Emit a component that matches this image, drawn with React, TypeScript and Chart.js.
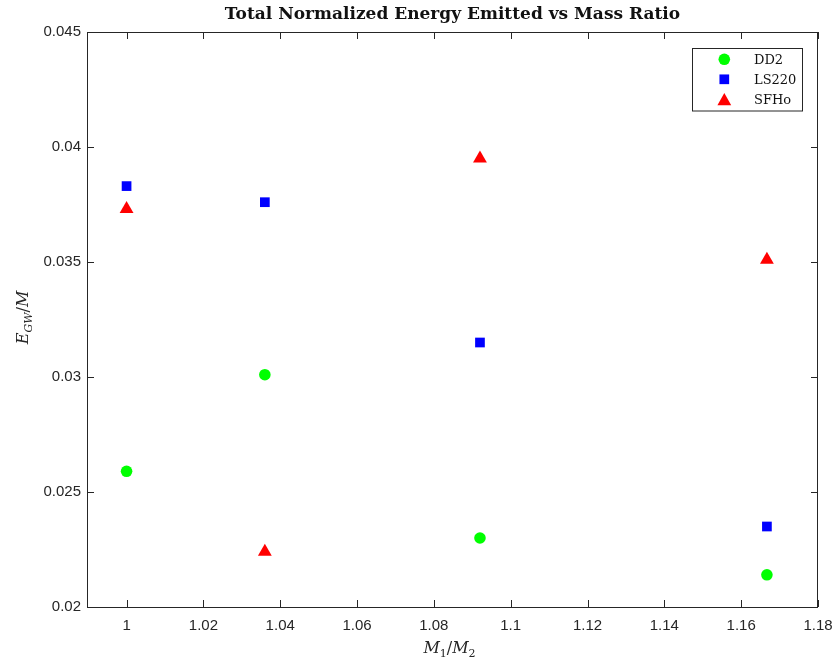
import React, { useEffect, useRef } from "react";
import { Chart, registerables } from "chart.js";

Chart.register(...registerables);

const massRatio = [1, 1.036, 1.092, 1.1667];
const dd2 = [0.0259, 0.0301, 0.0230, 0.0214];
const ls220 = [0.0383, 0.0376, 0.0315, 0.0235];
const sfho = [0.0373, 0.0224, 0.0395, 0.0351];

const xTicks = [1, 1.02, 1.04, 1.06, 1.08, 1.1, 1.12, 1.14, 1.16, 1.18];
const xTickLabels = ["1", "1.02", "1.04", "1.06", "1.08", "1.1", "1.12", "1.14", "1.16", "1.18"];
const yTicks = [0.02, 0.025, 0.03, 0.035, 0.04, 0.045];
const yTickLabels = ["0.02", "0.025", "0.03", "0.035", "0.04", "0.045"];

const seriesNames = ["DD2", "LS220", "SFHo"];
const titleText = "Total Normalized Energy Emitted vs Mass Ratio";

const AXIS = "#262626";

type Seg = { t: string; sub?: boolean; italic?: boolean };

function drawMath(ctx: CanvasRenderingContext2D, segs: Seg[], cx: number, baseline: number, size: number) {
  const fontFor = (s: Seg) =>
    `${s.italic ? "italic " : ""}${s.sub ? Math.round(size * 0.7) : size}px "DejaVu Serif", serif`;
  let total = 0;
  for (const s of segs) {
    ctx.font = fontFor(s);
    total += ctx.measureText(s.t).width;
  }
  let x = cx - total / 2;
  ctx.textAlign = "left";
  ctx.textBaseline = "alphabetic";
  for (const s of segs) {
    ctx.font = fontFor(s);
    ctx.fillText(s.t, x, baseline + (s.sub ? size * 0.25 : 0));
    x += ctx.measureText(s.t).width;
  }
}

const decorPlugin = {
  id: "decor",
  afterDraw(chart: any) {
    const ctx: CanvasRenderingContext2D = chart.ctx;
    const { left, right, top, bottom } = chart.chartArea;
    const xs = chart.scales.x;
    const ys = chart.scales.y;
    ctx.save();
    ctx.strokeStyle = AXIS;
    ctx.lineWidth = 1;
    ctx.strokeRect(left + 0.5, top + 0.5, right - left - 1, bottom - top);
    ctx.beginPath();
    const tl = 7;
    for (const v of xTicks) {
      const px = Math.round(xs.getPixelForValue(v)) + 0.5;
      ctx.moveTo(px, bottom);
      ctx.lineTo(px, bottom - tl);
      ctx.moveTo(px, top);
      ctx.lineTo(px, top + tl);
    }
    for (const v of yTicks) {
      const py = Math.round(ys.getPixelForValue(v)) + 0.5;
      ctx.moveTo(left, py);
      ctx.lineTo(left + tl, py);
      ctx.moveTo(right, py);
      ctx.lineTo(right - tl, py);
    }
    ctx.stroke();

    // title
    ctx.fillStyle = "#111";
    ctx.font = 'bold 17px "DejaVu Serif", serif';
    ctx.textAlign = "center";
    ctx.textBaseline = "middle";
    ctx.fillText(titleText, (left + right) / 2, 15);

    // axis labels
    ctx.fillStyle = AXIS;
    drawMath(
      ctx,
      [{ t: "M", italic: true }, { t: "1", sub: true }, { t: "/" }, { t: "M", italic: true }, { t: "2", sub: true }],
      (left + right) / 2 - 3,
      653,
      16
    );
    ctx.save();
    ctx.translate(28, (top + bottom) / 2 - 2);
    ctx.rotate(-Math.PI / 2);
    drawMath(
      ctx,
      [{ t: "E", italic: true }, { t: "GW", sub: true, italic: true }, { t: "/" }, { t: "M", italic: true }],
      0,
      0,
      16
    );
    ctx.restore();

    // legend
    const lx = 692.5, ly = 48.5, lw = 110, lh = 62.5;
    ctx.fillStyle = "#fff";
    ctx.fillRect(lx, ly, lw, lh);
    ctx.strokeStyle = AXIS;
    ctx.strokeRect(lx, ly, lw, lh);
    const mx = 724.3;
    const rows = [59.3, 79.3, 99.3];
    ctx.fillStyle = "#00ff00";
    ctx.beginPath();
    ctx.arc(mx, rows[0], 5.8, 0, Math.PI * 2);
    ctx.fill();
    ctx.fillStyle = "#0000ff";
    ctx.fillRect(mx - 4.85, rows[1] - 4.85, 9.7, 9.7);
    ctx.fillStyle = "#ff0000";
    ctx.beginPath();
    ctx.moveTo(mx, rows[2] - 6.2);
    ctx.lineTo(mx + 6.9, rows[2] + 6);
    ctx.lineTo(mx - 6.9, rows[2] + 6);
    ctx.closePath();
    ctx.fill();
    ctx.fillStyle = "#111";
    ctx.font = '13px "DejaVu Serif", serif';
    ctx.textAlign = "left";
    ctx.textBaseline = "middle";
    seriesNames.forEach((n, i) => ctx.fillText(n, 754, rows[i] + 1));
    ctx.restore();
  },
};

export default function App() {
  const ref = useRef<HTMLCanvasElement | null>(null);
  useEffect(() => {
    if (!ref.current) return;
    const mk = (vals: number[]) => massRatio.map((x, i) => ({ x, y: vals[i] }));
    const chart = new Chart(ref.current, {
      type: "scatter",
      data: {
        datasets: [
          { label: seriesNames[0], data: mk(dd2), backgroundColor: "#00ff00", pointStyle: "circle", pointRadius: 5.8, pointBorderWidth: 0 },
          { label: seriesNames[1], data: mk(ls220), backgroundColor: "#0000ff", pointStyle: "rect", pointRadius: 6.86, pointBorderWidth: 0 },
          { label: seriesNames[2], data: mk(sfho), backgroundColor: "#ff0000", pointStyle: "triangle", pointRadius: 8, pointBorderWidth: 0 },
        ],
      },
      options: {
        responsive: false,
        animation: false,
        layout: { padding: { left: 0, top: 32, right: 19, bottom: 0 } },
        plugins: { legend: { display: false }, title: { display: false }, tooltip: { enabled: false } },
        scales: {
          x: {
            type: "linear",
            min: 0.9897,
            max: 1.18,
            grid: { display: false, drawTicks: false },
            border: { display: false },
            afterBuildTicks: (s: any) => { s.ticks = xTicks.map((v) => ({ value: v })); },
            afterFit: (s: any) => { s.height = 52; s.paddingLeft = 0; s.paddingRight = 0; },
            ticks: {
              padding: 10,
              color: AXIS,
              font: { family: '"Liberation Sans", Arial, sans-serif', size: 15 },
              callback: (v: any) => { const i = xTicks.findIndex((t) => Math.abs(t - v) < 1e-9); return i >= 0 ? xTickLabels[i] : ""; },
              maxRotation: 0,
            },
          },
          y: {
            type: "linear",
            min: 0.02,
            max: 0.045,
            grid: { display: false, drawTicks: false },
            border: { display: false },
            afterBuildTicks: (s: any) => { s.ticks = yTicks.map((v) => ({ value: v })); },
            afterFit: (s: any) => { s.width = 87; s.paddingTop = 0; s.paddingBottom = 0; },
            ticks: {
              padding: 6,
              color: AXIS,
              font: { family: '"Liberation Sans", Arial, sans-serif', size: 15 },
              callback: (v: any) => { const i = yTicks.findIndex((t) => Math.abs(t - v) < 1e-9); return i >= 0 ? yTickLabels[i] : ""; },
            },
          },
        },
      },
      plugins: [decorPlugin],
    });
    return () => chart.destroy();
  }, []);
  return (
    <div style={{ position: "absolute", left: 0, top: 0, width: 837, height: 659, background: "#fff" }}>
      <canvas ref={ref} width={837} height={659} style={{ display: "block" }} />
    </div>
  );
}
